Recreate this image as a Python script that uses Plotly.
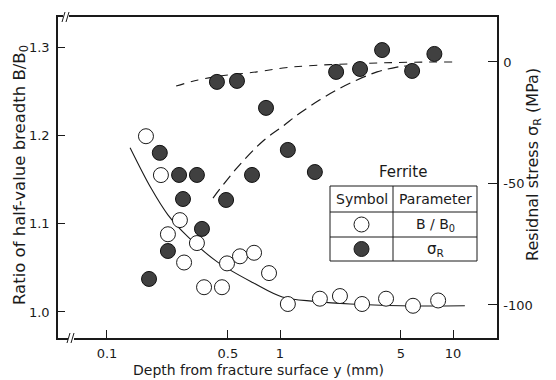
import plotly.graph_objects as go

# ---------------- data ----------------
bb_depth = [0.168, 0.205, 0.264, 0.225, 0.331, 0.279, 0.494, 0.587, 0.708, 0.864,
            0.364, 0.462, 1.11, 1.70, 2.22, 2.98, 4.10, 5.87, 8.2]
bb_ratio = [1.199, 1.155, 1.104, 1.088, 1.078, 1.056, 1.055, 1.063, 1.067, 1.044,
            1.028, 1.028, 1.009, 1.015, 1.018, 1.009, 1.015, 1.007, 1.013]
bb_surface = [1.243]

sr_depth = [0.202, 0.261, 0.331, 0.275, 0.488, 0.354, 0.225, 0.175, 0.689, 0.830,
            0.432, 0.564, 1.11, 1.59, 2.11, 2.90, 3.89, 5.8, 7.8]
sr_stress = [-37.4, -46.5, -46.5, -56.4, -56.8, -68.7, -77.8, -89.3, -46.5, -18.9,
             -8.2, -7.8, -36.2, -45.3, -4.1, -2.9, 4.9, -3.7, 3.3]
sr_surface = [-52.7]

bb_fit_depth = [0.136, 0.18, 0.225, 0.294, 0.432, 0.7, 1.03, 1.6, 2.54, 5.0, 11.7]
bb_fit_ratio = [1.186, 1.140, 1.110, 1.085, 1.057, 1.033, 1.017, 1.012, 1.009, 1.007, 1.007]

sr_fit1_depth = [0.251, 0.336, 0.45, 0.736, 1.04, 1.43, 2.5, 3.78, 6.0, 10.1]
sr_fit1_stress = [-9.9, -7.4, -5.8, -4.1, -2.5, -1.6, -0.8, -0.4, -0.1, 0.0]

sr_fit2_depth = [0.41, 0.564, 0.798, 1.027, 1.305, 1.70, 2.13, 2.79, 3.64, 4.74, 5.43]
sr_fit2_stress = [-56.0, -43.6, -32.5, -26.7, -21.0, -15.6, -11.5, -7.4, -4.1, -2.1, -1.6]

x_ticks = [0.1, 0.5, 1, 5, 10]
x_ticktext = ["0.1", "0.5", "1", "5", "10"]
y_ticks = [1.0, 1.1, 1.2, 1.3]
y_ticktext = ["1.0", "1.1", "1.2", "1.3"]
y2_ticks = [0, -50, -100]
y2_ticktext = ["0", "-50", "-100"]

X_MIN = 0.0521
X_RANGE = [-1.283, 1.254]
Y_RANGE = [0.9705, 1.334]
Y2_RANGE = [-113.6, 18.5]

# ---------------- layout helpers ----------------
W, H = 556, 380
L, R, T, B = 58, 59, 17, 42
PW, PH = W - L - R, H - T - B
FONT = "DejaVu Sans"
INK = "#1a1a1a"


def px(x):
    return (x - L) / PW


def py(y):
    return (H - B - y) / PH


fig = go.Figure()

# fitted curves
fig.add_trace(go.Scatter(x=bb_fit_depth, y=bb_fit_ratio, mode="lines", line=dict(color=INK, width=1.1, shape="spline"),
                         yaxis="y", showlegend=False, hoverinfo="skip"))
fig.add_trace(go.Scatter(x=sr_fit1_depth, y=sr_fit1_stress, mode="lines",
                         line=dict(color=INK, width=1.1, dash="8px,7px", shape="spline"),
                         yaxis="y2", showlegend=False, hoverinfo="skip"))
fig.add_trace(go.Scatter(x=sr_fit2_depth, y=sr_fit2_stress, mode="lines",
                         line=dict(color=INK, width=1.2, dash="11px,6px", shape="spline"),
                         yaxis="y2", showlegend=False, hoverinfo="skip"))

FILL = "#404040"
open_marker = dict(symbol="circle", size=15, color="white", line=dict(color=INK, width=1))
fill_marker = dict(symbol="circle", size=15, color=FILL, line=dict(color="#111", width=1))

fig.add_trace(go.Scatter(x=sr_depth, y=sr_stress, mode="markers", marker=fill_marker, yaxis="y2",
                         showlegend=False))
fig.add_trace(go.Scatter(x=bb_depth, y=bb_ratio, mode="markers", marker=open_marker, yaxis="y",
                         showlegend=False))
fig.add_trace(go.Scatter(x=[X_MIN], y=bb_surface, mode="markers", marker=open_marker, yaxis="y",
                         cliponaxis=False, showlegend=False))
fig.add_trace(go.Scatter(x=[X_MIN], y=sr_surface, mode="markers", marker=fill_marker, yaxis="y2",
                         cliponaxis=False, showlegend=False))

shapes = []
# legend table
tx0, tx1, tdiv = 330, 477, 393
ty = [186, 212, 237, 261]
shapes.append(dict(type="rect", xref="paper", yref="paper", x0=px(tx0), x1=px(tx1), y0=py(ty[3]), y1=py(ty[0]),
                   line=dict(color=INK, width=1), fillcolor="white", layer="above"))
for yy in ty[1:3]:
    shapes.append(dict(type="line", xref="paper", yref="paper", x0=px(tx0), x1=px(tx1), y0=py(yy), y1=py(yy),
                       line=dict(color=INK, width=1), layer="above"))
shapes.append(dict(type="line", xref="paper", yref="paper", x0=px(tdiv), x1=px(tdiv), y0=py(ty[3]), y1=py(ty[0]),
                   line=dict(color=INK, width=1), layer="above"))
sym_x = (tx0 + tdiv) / 2
for yy, fc in [((ty[1] + ty[2]) / 2, "white"), ((ty[2] + ty[3]) / 2, FILL)]:
    shapes.append(dict(type="circle", xref="paper", yref="paper", xsizemode="pixel", ysizemode="pixel",
                       xanchor=px(sym_x), yanchor=py(yy), x0=-7.5, x1=7.5, y0=-7.5, y1=7.5,
                       line=dict(color=INK, width=1), fillcolor=fc, layer="above"))

# axis breaks
for bx, by in [(66, 17), (71, 338)]:
    shapes.append(dict(type="rect", xref="paper", yref="paper", x0=px(bx - 3), x1=px(bx + 3),
                       y0=py(by + 2), y1=py(by - 2), line=dict(width=0), fillcolor="white", layer="above"))
    for dx in (-3, 1):
        shapes.append(dict(type="line", xref="paper", yref="paper", x0=px(bx + dx - 1), x1=px(bx + dx + 2),
                           y0=py(by + 5), y1=py(by - 5), line=dict(color=INK, width=1), layer="above"))


def note(text, x, y, size, angle=0):
    return dict(text=text, x=px(x), y=py(y), xref="paper", yref="paper", xanchor="center", yanchor="middle",
                textangle=angle, showarrow=False, font=dict(family=FONT, size=size, color=INK))


par_x = (tdiv + tx1) / 2
ann = [
    note("Ferrite", 403, 172, 15),
    note("Symbol", sym_x, (ty[0] + ty[1]) / 2, 14),
    note("Parameter", par_x, (ty[0] + ty[1]) / 2, 14),
    note("B / B<sub>0</sub>", par_x, (ty[1] + ty[2]) / 2, 14),
    note("σ<sub>R</sub>", par_x, (ty[2] + ty[3]) / 2, 15),
    note("Depth from fracture surface y (mm)", 258, 370, 14),
    note("Ratio of half-value breadth B/B<sub>0</sub>", 20, 175, 16.5, -90),
    note("Residnal stress σ<sub>R</sub> (MPa)", 533, 165, 16, -90),
]

tickfont = dict(family=FONT, size=13, color=INK)
fig.update_layout(
    width=W, height=H, margin=dict(l=L, r=R, t=T, b=B, pad=0),
    paper_bgcolor="white", plot_bgcolor="white", showlegend=False,
    xaxis=dict(type="log", range=X_RANGE, tickvals=x_ticks, ticktext=x_ticktext, ticks="inside", ticklen=8,
               tickcolor=INK, tickwidth=1, showline=True, linecolor=INK, linewidth=1.5, mirror=True,
               showgrid=False, zeroline=False, tickfont=tickfont, ticklabelstandoff=3),
    yaxis=dict(range=Y_RANGE, tickvals=y_ticks, ticktext=y_ticktext, ticks="inside", ticklen=7,
               tickcolor=INK, tickwidth=1, showline=True, linecolor=INK, linewidth=1.5,
               showgrid=False, zeroline=False, tickfont=tickfont, ticklabelstandoff=4),
    yaxis2=dict(range=Y2_RANGE, tickvals=y2_ticks, ticktext=y2_ticktext, overlaying="y", side="right",
                anchor="x", ticks="inside", ticklen=9, tickcolor=INK, tickwidth=1, showline=True,
                linecolor=INK, linewidth=1.5, showgrid=False, zeroline=False, tickfont=tickfont,
                ticklabelstandoff=2),
    shapes=shapes, annotations=ann,
)

fig.write_html("out.html")
